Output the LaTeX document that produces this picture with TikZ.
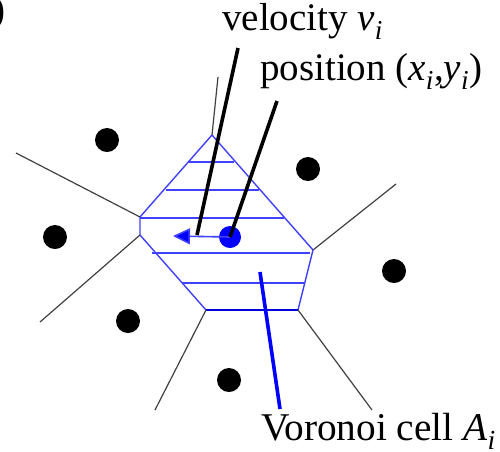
\documentclass[tikz,border=0pt]{standalone}
\usepackage{fontspec}
\setmainfont{Liberation Serif}
\usetikzlibrary{arrows.meta}
\colorlet{cellA}{blue!75!white}
\colorlet{edgeA}{black!75!white}

\begin{document}
\begin{tikzpicture}[x=1pt,y=-1pt,
    lbl/.style={anchor=base west, inner sep=0pt,
                font=\fontsize{39}{44}\selectfont},
    site/.style={circle, fill=black, inner sep=0pt, minimum size=24pt}]
        \useasboundingbox (0,0) rectangle (500,451);
        % Voronoi cell of particle i
        \coordinate (T)  at (212,135);
        \coordinate (R)  at (313,250);
        \coordinate (BR) at (298,310);
        \coordinate (BL) at (206,310);
        \coordinate (LL) at (140,235);
        \coordinate (LU) at (140,217);
        \foreach \y/\xa/\xb in {162/189/234, 190/166/259, 218/140/284,
                                253/152/310, 283/182/305}
          \draw[cellA, line width=1.3pt] (\xa,\y)--(\xb,\y);
        \draw[cellA, line width=1.4pt, line join=round]
              (T)--(R)--(BR)--(BL)--(LL)--(LU)--cycle;
        \draw[blue!85!black, line width=1.4pt] (BR)--(BL);
        % neighbouring edges
        \draw[edgeA, line width=1.2pt] (T)--(218,77);
        \draw[edgeA, line width=1.2pt] (LU)--(16,153);
        \draw[edgeA, line width=1.2pt] (LL)--(40,322);
        \draw[edgeA, line width=1.2pt] (R)--(396,184);
        \draw[edgeA, line width=1.2pt] (BL)--(155,410);
        \draw[edgeA, line width=1.2pt] (BR)--(372,410);
        % neighbouring particles
        \node[site] (s1) at (107,140) {};
        \node[site] (s2) at (55,237)  {};
        \node[site] (s3) at (128,321) {};
        \node[site] (s4) at (308,169) {};
        \node[site] (s5) at (394,271) {};
        \node[site] (s6) at (229,380) {};
        % particle i and its velocity
        \node[circle, fill=blue, inner sep=0pt, minimum size=22pt] (pi) at (230,237) {};
        \coordinate (vtip) at (173,236);
        \draw[cellA, line width=1.6pt,
              -{Triangle[length=17pt, width=16pt, fill=blue]}] (pi.center)--(vtip);
        % labels
        \node[lbl] (vel) at (222,30) {velocity \textit{v}\textsubscript{\textit{i}}};
        \node[lbl] (pos) at (260,80) {position (\textit{x}\textsubscript{\textit{i}},\textit{y}\textsubscript{\textit{i}})};
        \node[lbl, font=\fontsize{39.3}{44}\selectfont] (cell) at (261,440) {Voronoi cell \textit{A}\textsubscript{\textit{i}}};
        \node[lbl, anchor=base east] (tag) at (6,22) {)};
        % pointers
        \coordinate (velTop) at (238,48);
        \coordinate (velEnd) at (197,235);
        \coordinate (posTop) at (277,101);
        \coordinate (cellTop) at (260,272);
        \coordinate (cellEnd) at (280,409);
        \draw[line width=3.6pt] (velTop)--(velEnd);
        \draw[line width=3.6pt] (posTop)--(pi.center);
        \draw[blue, line width=3.6pt] (cellTop)--(cellEnd);
      \end{tikzpicture}
\end{document}
